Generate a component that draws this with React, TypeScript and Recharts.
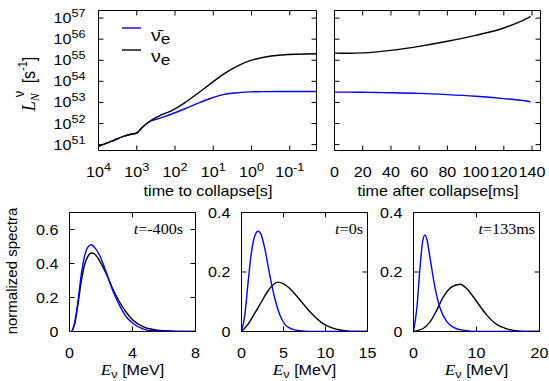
import React from "react";
import { LineChart, Line, XAxis, YAxis, ReferenceArea } from "recharts";

const SANS = "'Liberation Sans', Arial, Helvetica, sans-serif";
const SERIF = "'Liberation Serif', 'Times New Roman', serif";
const FW = 1.15; // horizontal stretch of the reference's lettering
const BLUE = "#0000ff";

// --- luminosity before collapse (time to collapse, s; values are log10 of L in s^-1)
const collapseTime = [10000, 4490, 2230, 1350, 1000, 741, 496, 272, 122, 54.8, 24.6, 11.0, 5.48, 2.72, 1.1, 0.548, 0.165, 0.0201];
const nuebarPre = [50.92, 51.16, 51.39, 51.5, 51.55, 51.79, 52.06, 52.23, 52.45, 52.7, 52.97, 53.21, 53.37, 53.45, 53.5, 53.51, 53.52, 53.52];
const nuePre = [50.92, 51.16, 51.39, 51.5, 51.55, 51.79, 52.06, 52.34, 52.61, 52.99, 53.45, 53.93, 54.33, 54.66, 54.98, 55.12, 55.25, 55.31];

// --- luminosity after collapse (ms)
const bounceTime = [0, 10, 20, 30, 40, 60, 80, 100, 120, 132, 139];
const nuebarPost = [53.49, 53.49, 53.48, 53.47, 53.46, 53.43, 53.37, 53.29, 53.18, 53.1, 53.03];
const nuePost = [55.34, 55.33, 55.35, 55.4, 55.47, 55.66, 55.9, 56.18, 56.53, 56.84, 57.08];

const logTicksX = [10000, 1000, 100, 10, 1, 0.1];
const logTicksY = [1e51, 1e52, 1e53, 1e54, 1e55, 1e56, 1e57];
const msTicks = [0, 20, 40, 60, 80, 100, 120, 140];

// --- spectra (E in MeV)
const s1BlueE = [0.15, 0.32, 0.53, 0.74, 0.95, 1.16, 1.38, 1.59, 1.9, 2.33, 2.75, 3.17, 3.6, 4.02, 4.66, 5.3, 6.1, 8];
const s1BlueV = [0, 0.05, 0.17, 0.33, 0.44, 0.495, 0.51, 0.495, 0.45, 0.35, 0.24, 0.155, 0.087, 0.049, 0.016, 0.004, 0, 0];
const s1BlackE = [0.15, 0.32, 0.53, 0.74, 0.95, 1.16, 1.38, 1.59, 1.9, 2.33, 2.75, 3.17, 3.6, 4.02, 4.66, 5.3, 6.1, 7.0, 8];
const s1BlackV = [0, 0.04, 0.155, 0.29, 0.39, 0.44, 0.462, 0.456, 0.417, 0.34, 0.25, 0.175, 0.113, 0.068, 0.029, 0.012, 0.004, 0, 0];

const s2BlueE = [0, 0.4, 0.79, 1.19, 1.59, 1.98, 2.3, 2.78, 3.37, 3.97, 4.56, 5.16, 5.95, 7.14, 8.7, 15];
const s2BlueV = [0, 0.056, 0.167, 0.267, 0.322, 0.337, 0.328, 0.278, 0.189, 0.111, 0.056, 0.024, 0.009, 0.002, 0, 0];
const s2BlackE = [0, 0.79, 1.59, 2.38, 3.17, 3.77, 4.29, 4.96, 5.95, 7.14, 8.33, 9.52, 10.7, 11.9, 13.5, 15];
const s2BlackV = [0, 0.025, 0.062, 0.1, 0.137, 0.157, 0.166, 0.161, 0.139, 0.1, 0.061, 0.03, 0.013, 0.004, 0, 0];

const s3BlueE = [0, 0.53, 1.06, 1.48, 1.8, 2.12, 2.65, 3.44, 4.23, 5.29, 6.35, 7.94, 10.05, 20];
const s3BlueV = [0, 0.078, 0.222, 0.306, 0.324, 0.311, 0.244, 0.144, 0.078, 0.033, 0.014, 0.004, 0, 0];
const s3BlackE = [0, 1.59, 2.65, 3.7, 4.76, 6.08, 7.41, 8.47, 10.05, 11.6, 13.2, 14.8, 16.9, 18.5, 20];
const s3BlackV = [0, 0.011, 0.033, 0.072, 0.117, 0.15, 0.159, 0.144, 0.1, 0.056, 0.024, 0.009, 0.001, 0, 0];

const zip = (xs: number[], ys: number[]) => xs.map((x, i) => ({ x, y: ys[i] }));

const preData = collapseTime.map((t, i) => ({ x: t, nuebar: 10 ** nuebarPre[i], nue: 10 ** nuePre[i] }));
const postData = bounceTime.map((t, i) => ({ x: t, nuebar: 10 ** nuebarPost[i], nue: 10 ** nuePost[i] }));

function Txt({ x, y, anchor = "start", size = 14, family = SANS, children }: any) {
  return (
    <text transform={`translate(${x},${y}) scale(${FW},1)`} textAnchor={anchor} fontSize={size} fontFamily={family} fill="#000">
      {children}
    </text>
  );
}

const pow10 = (v: number) => (
  <>
    <tspan>10</tspan>
    <tspan dy={-6} fontSize={11}>{Math.round(Math.log10(v))}</tspan>
  </>
);
const plain = (v: number) => String(v);

const T0 = 12, R = 14, B = 52;

function Panel({ rect, L = 70, xd, yd, xt, yt, xlog, ylog, reversed, xfmt, yfmt, ygap = 11, lines, overlay }: any) {
  const [x0, x1, y0, y1] = rect;
  const w = x1 - x0, h = y1 - y0;
  const left = Math.floor(x0) - L, top = Math.floor(y0) - T0;
  const pl = x0 - left, pt = y0 - top, pr = pl + w, pb = pt + h;
  const width = Math.ceil(pr + R), height = Math.ceil(pb + B);
  const xTick = ({ x, payload }: any) => (
    <g>
      <line x1={x} x2={x} y1={pb} y2={pb - 5} stroke="#000" />
      <line x1={x} x2={x} y1={pt} y2={pt + 5} stroke="#000" />
      {xfmt && <Txt x={x} y={pb + 26} anchor="middle">{xfmt(payload.value)}</Txt>}
    </g>
  );
  const yTick = ({ y, payload }: any) => (
    <g>
      <line x1={pl} x2={pl + 5} y1={y} y2={y} stroke="#000" />
      <line x1={pr} x2={pr - 5} y1={y} y2={y} stroke="#000" />
      {yfmt && <Txt x={pl - ygap} y={y + 5} anchor="end">{yfmt(payload.value)}</Txt>}
    </g>
  );
  return (
    <div style={{ position: "absolute", left, top }}>
      <LineChart width={width} height={height} margin={{ left: pl - L, top: pt, right: width - pr, bottom: 0 }}>
        <XAxis type="number" dataKey="x" domain={xd} ticks={xt} scale={xlog ? "log" : "linear"}
          reversed={reversed} allowDataOverflow interval={0} axisLine={false} tickLine={false} tick={xTick} height={height - pb} />
        <YAxis type="number" domain={yd} ticks={yt} scale={ylog ? "log" : "linear"} allowDataOverflow interval={0}
          axisLine={false} tickLine={false} tick={yTick} width={L} />
        <ReferenceArea x1={xd[0]} x2={xd[1]} y1={yd[0]} y2={yd[1]} fill="none" stroke="#000" strokeWidth={1} fillOpacity={0} />
        {lines}
        {overlay && overlay((px: number) => px - left, (py: number) => py - top)}
      </LineChart>
    </div>
  );
}

const seg = (data: any[], key: string, color: string) => (
  <Line key={key + color} data={data} dataKey={key} stroke={color} strokeWidth={1.4} dot={false} type="monotone"
    isAnimationActive={false} activeDot={false} />
);

export default function App() {
  const yLum = [10 ** 50.72, 10 ** 57.36];
  const spectra = [
    { rect: [69.5, 195.5, 212.5, 331.5], xd: [0, 8], xt: [0, 4, 8], yd: [0, 0.7], yt: [0, 0.2, 0.4, 0.6],
      blue: zip(s1BlueE, s1BlueV), black: zip(s1BlackE, s1BlackV), label: "=-400s", lx: 183 },
    { rect: [241.5, 367.5, 212.5, 331.5], xd: [0, 15], xt: [0, 5, 10, 15], yd: [0, 0.4], yt: [0, 0.2, 0.4],
      blue: zip(s2BlueE, s2BlueV), black: zip(s2BlackE, s2BlackV), label: "=0s", lx: 363 },
    { rect: [413.5, 539.5, 212.5, 331.5], xd: [0, 20], xt: [0, 10, 20], yd: [0, 0.4], yt: [0, 0.2, 0.4],
      blue: zip(s3BlueE, s3BlueV), black: zip(s3BlackE, s3BlackV), label: "=133ms", lx: 535 },
  ];
  return (
    <div style={{ position: "absolute", left: 0, top: 0, width: 549, height: 381, background: "#fff" }}>
      <Panel rect={[98.5, 316.5, 10.5, 150.5]} L={98} xd={[0.02, 10000]} yd={yLum} xt={logTicksX} yt={logTicksY}
        xlog ylog reversed xfmt={pow10} yfmt={pow10} ygap={13}
        lines={[seg(preData, "nuebar", BLUE), seg(preData, "nue", "#000")]}
        overlay={(cx: any, cy: any) => (
          <g>
            <line x1={cx(122)} x2={cx(141)} y1={cy(28)} y2={cy(28)} stroke={BLUE} strokeWidth={1.4} />
            <Txt x={cx(151)} y={cy(41)} size={17}>{"ν\u0304"}<tspan dy={3} fontSize={15}>e</tspan></Txt>
            <line x1={cx(122)} x2={cx(141)} y1={cy(50)} y2={cy(50)} stroke="#000" strokeWidth={1.4} />
            <Txt x={cx(151)} y={cy(62)} size={17}>ν<tspan dy={3} fontSize={15}>e</tspan></Txt>
            <Txt x={cx(208)} y={cy(196)} anchor="middle">time to collapse[s]</Txt>
            <text transform={`translate(${cx(35)},${cy(84)}) rotate(-90) scale(1,1.1)`} textAnchor="middle" fontFamily={SANS} fontSize={16}>
              <tspan fontFamily={SERIF} fontStyle="italic" fontSize={18}>L</tspan>
              <tspan fontFamily={SERIF} fontStyle="italic" fontSize={12} dy={4}>N</tspan>
              <tspan fontSize={13} dy={-14} dx={-4}>ν</tspan>
              <tspan dy={10} dx={3}> [s</tspan>
              <tspan fontSize={11} dy={-7}>-1</tspan>
              <tspan dy={7}>]</tspan>
            </text>
          </g>
        )} />
      <Panel rect={[334.5, 540.5, 10.5, 150.5]} xd={[0, 146]} yd={yLum} xt={msTicks} yt={logTicksY}
        ylog xfmt={plain}
        lines={[seg(postData, "nuebar", BLUE), seg(postData, "nue", "#000")]}
        overlay={(cx: any, cy: any) => (
          <Txt x={cx(438)} y={cy(196)} anchor="middle">time after collapse[ms]</Txt>
        )} />
      {spectra.map((s, i) => (
        <Panel key={i} rect={s.rect} xd={s.xd} yd={s.yd} xt={s.xt} yt={s.yt} xfmt={plain} yfmt={plain} ygap={11}
          lines={[seg(s.black, "y", "#000"), seg(s.blue, "y", BLUE)]}
          overlay={(cx: any, cy: any) => (
            <g>
              <Txt x={cx(s.lx)} y={cy(233.5)} anchor="end" family={SERIF} size={14}>
                <tspan fontStyle="italic">t</tspan>{s.label}
              </Txt>
              <Txt x={cx((s.rect[0] + s.rect[1]) / 2)} y={cy(375)} anchor="middle">
                <tspan fontFamily={SERIF} fontStyle="italic" fontSize={15}>E</tspan>
                <tspan fontSize={11} dy={3}>ν</tspan>
                <tspan dy={-3}> [MeV]</tspan>
              </Txt>
              {i === 0 && (
                <text transform={`translate(${cx(16.5)},${cy(271)}) rotate(-90)`} textAnchor="middle" fontFamily={SANS} fontSize={15}>
                  normalized spectra
                </text>
              )}
            </g>
          )} />
      ))}
    </div>
  );
}
